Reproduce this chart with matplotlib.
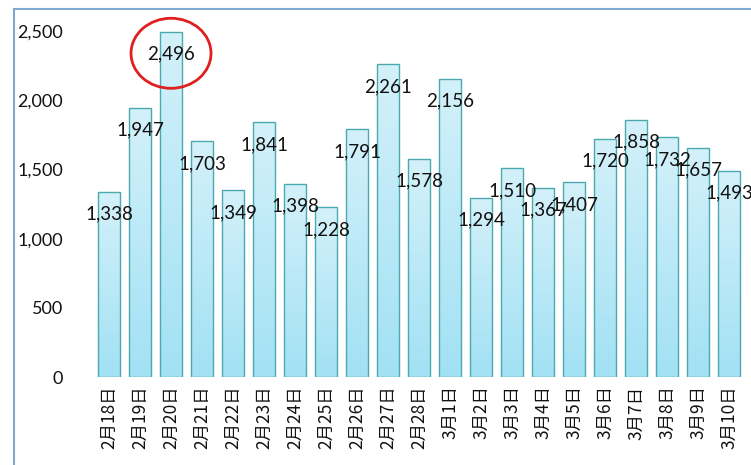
import matplotlib
matplotlib.use("Agg")
import matplotlib.pyplot as plt
import numpy as np
from matplotlib.patches import Ellipse, Rectangle
from matplotlib.ticker import FuncFormatter
from matplotlib.colors import LinearSegmentedColormap

dates = ["2月18日", "2月19日", "2月20日", "2月21日", "2月22日", "2月23日", "2月24日",
         "2月25日", "2月26日", "2月27日", "2月28日", "3月1日", "3月2日", "3月3日",
         "3月4日", "3月5日", "3月6日", "3月7日", "3月8日", "3月9日", "3月10日"]
values = [1338, 1947, 2496, 1703, 1349, 1841, 1398, 1228, 1791, 2261, 1578,
          2156, 1294, 1510, 1367, 1407, 1720, 1858, 1732, 1657, 1493]
yticks = [0, 500, 1000, 1500, 2000, 2500]
highlight_index = 2

plt.rcParams['font.family'] = ['Lato', 'Noto Sans CJK SC', 'DejaVu Sans']

fig = plt.figure(figsize=(7.51, 4.65), dpi=100)
fig.patch.set_facecolor('white')
ax = fig.add_axes([0.1245, 0.189, 0.867, 0.744])

x = np.arange(len(values))
bars = ax.bar(x, values, width=0.71, facecolor='none', edgecolor='#4aaab0',
              linewidth=1.0, zorder=3)

# gradient fill for each bar
grad = np.linspace(0, 1, 256).reshape(-1, 1)
cmap = LinearSegmentedColormap.from_list('g', ['#a2e1f4', '#d4f1fa'])
for b in bars:
    bx, by, bw, bh = b.get_x(), b.get_y(), b.get_width(), b.get_height()
    im = ax.imshow(grad, extent=[bx, bx + bw, by, by + bh], origin='lower',
                   cmap=cmap, aspect='auto', zorder=2)
    im.set_clip_path(b)

for i, v in enumerate(values):
    ax.annotate(f"{v:,}", xy=(i, v), xytext=(0, -16), textcoords='offset points',
                ha='center', va='center', fontsize=13.5, color='#111111', zorder=5)

ax.set_xlim(-0.5, len(values) - 0.5)
ax.set_ylim(0, 2500)
ax.set_yticks(yticks)
ax.yaxis.set_major_formatter(FuncFormatter(lambda v, p: f"{int(v):,}"))
ax.set_xticks(x)
ax.set_xticklabels(dates, rotation=90, fontsize=12.5,
                   family=['Noto Sans CJK SC', 'DejaVu Sans'])
ax.tick_params(axis='both', length=0, colors='#111111')
ax.tick_params(axis='y', labelsize=13, pad=22)
ax.tick_params(axis='x', pad=6)
for s in ax.spines.values():
    s.set_visible(False)
ax.set_facecolor('none')

# red ellipse highlighting the maximum
ell = Ellipse((highlight_index, 2340), width=2.58, height=506, fill=False,
              edgecolor='#e01f1f', linewidth=2, clip_on=False, zorder=6)
ax.add_patch(ell)

# chart outer border
fig.patches.append(Rectangle((14 / 751, -0.1), 1.0, (465 - 9) / 465 + 0.1,
                             transform=fig.transFigure, fill=False,
                             edgecolor='#80a8d0', linewidth=1.5))

fig.savefig('out.png', dpi=100)
